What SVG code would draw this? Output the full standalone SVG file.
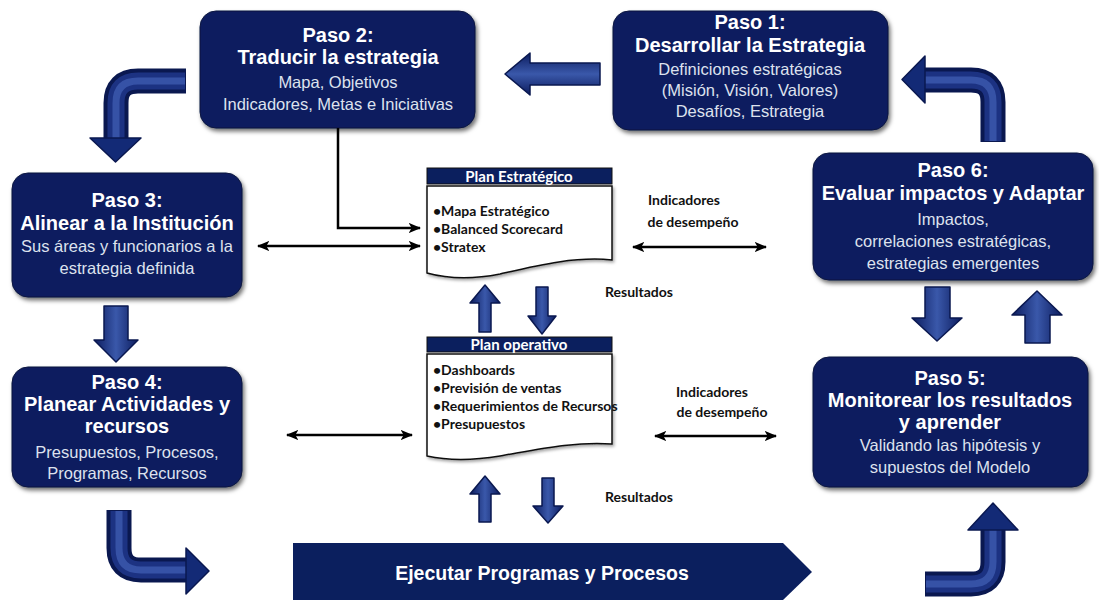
<svg xmlns="http://www.w3.org/2000/svg" width="1099" height="602" viewBox="0 0 1099 602">
  <defs>
    <filter id="shadow" x="-10%" y="-10%" width="125%" height="130%">
      <feDropShadow dx="2" dy="3" stdDeviation="2.2" flood-color="#000" flood-opacity="0.55"/>
    </filter>
    <filter id="soft" x="-10%" y="-10%" width="125%" height="130%">
      <feDropShadow dx="1.5" dy="2" stdDeviation="1.5" flood-color="#000" flood-opacity="0.35"/>
    </filter>
    <marker id="tip" viewBox="0 0 12 10" refX="11" refY="5" markerWidth="5" markerHeight="4.2" markerUnits="strokeWidth" orient="auto-start-reverse">
      <path d="M0,0 L12,5 L0,10 L3,5 Z" fill="#000"/>
    </marker>
    <linearGradient id="gv" x1="0" y1="0" x2="1" y2="0">
      <stop offset="0" stop-color="#0c1c5e"/>
      <stop offset="0.5" stop-color="#3a58aa"/>
      <stop offset="1" stop-color="#0c1c5e"/>
    </linearGradient>
    <linearGradient id="gh" x1="0" y1="0" x2="0" y2="1">
      <stop offset="0" stop-color="#0c1c5e"/>
      <stop offset="0.5" stop-color="#3a58aa"/>
      <stop offset="1" stop-color="#0c1c5e"/>
    </linearGradient>
  </defs>
  <style>
    .box { fill: #0b1f5e; stroke: #08143f; stroke-width: 1; filter: url(#shadow); }
    .ttl { font-family: "Liberation Sans", Arial, sans-serif; font-weight: bold; font-size: 20px; fill: #ffffff; text-anchor: middle; }
    .sub { font-family: "Liberation Sans", Arial, sans-serif; font-size: 16.5px; fill: #dde2ee; text-anchor: middle; }
    .doc { fill: #ffffff; stroke: #111; stroke-width: 1.5; filter: url(#soft); }
    .dochead { fill: #0b1f5e; stroke: #111; stroke-width: 1; }
    .dht { font-family: Lato, "Open Sans", sans-serif; font-weight: bold; font-size: 15px; fill: #fff; text-anchor: middle; }
    .item { font-family: Lato, "Open Sans", sans-serif; font-weight: bold; font-size: 14px; fill: #111; }
    .lbl { font-family: Lato, "Open Sans", sans-serif; font-weight: bold; font-size: 14px; fill: #111; text-anchor: middle; }
    .link { fill: none; stroke: #000; stroke-width: 2.5; }
    .bend-o { fill: none; stroke: #0a1850; stroke-width: 25; }
    .bend-m { fill: none; stroke: #1c3282; stroke-width: 17; }
    .bend-i { fill: none; stroke: #3652a6; stroke-width: 7; }
    .head { fill: #132a76; stroke: #0a1850; stroke-width: 1.5; stroke-linejoin: round; }
    .block { stroke: #0a1850; stroke-width: 1.5; stroke-linejoin: round; }
  </style>

  <!-- step boxes -->
  <g id="paso1">
    <rect class="box" x="613" y="11" width="275" height="119" rx="16"/>
    <text class="ttl" x="750" y="29">Paso 1:</text>
    <text class="ttl" x="750" y="52">Desarrollar la Estrategia</text>
    <text class="sub" x="750" y="75">Definiciones estratégicas</text>
    <text class="sub" x="750" y="96">(Misión, Visión, Valores)</text>
    <text class="sub" x="750" y="117">Desafíos, Estrategia</text>
  </g>
  <g id="paso2">
    <rect class="box" x="200" y="11" width="275" height="117" rx="16"/>
    <text class="ttl" x="338" y="42">Paso 2:</text>
    <text class="ttl" x="338" y="64">Traducir la estrategia</text>
    <text class="sub" x="338" y="88">Mapa, Objetivos</text>
    <text class="sub" x="338" y="110">Indicadores, Metas e Iniciativas</text>
  </g>
  <g id="paso3">
    <rect class="box" x="12" y="173" width="230" height="124" rx="16"/>
    <text class="ttl" x="127" y="207">Paso 3:</text>
    <text class="ttl" x="127" y="230">Alinear a la Institución</text>
    <text class="sub" x="127" y="252">Sus áreas y funcionarios a la</text>
    <text class="sub" x="127" y="274">estrategia definida</text>
  </g>
  <g id="paso4">
    <rect class="box" x="12" y="367" width="230" height="120" rx="16"/>
    <text class="ttl" x="127" y="389">Paso 4:</text>
    <text class="ttl" x="127" y="411">Planear Actividades y</text>
    <text class="ttl" x="127" y="433">recursos</text>
    <text class="sub" x="127" y="458">Presupuestos, Procesos,</text>
    <text class="sub" x="127" y="479">Programas, Recursos</text>
  </g>
  <g id="paso5">
    <rect class="box" x="813" y="357" width="275" height="130" rx="16"/>
    <text class="ttl" x="950" y="385">Paso 5:</text>
    <text class="ttl" x="950" y="407">Monitorear los resultados</text>
    <text class="ttl" x="950" y="429">y aprender</text>
    <text class="sub" x="950" y="451">Validando las hipótesis y</text>
    <text class="sub" x="950" y="473">supuestos del Modelo</text>
  </g>
  <g id="paso6">
    <rect class="box" x="813" y="153" width="280" height="127" rx="16"/>
    <text class="ttl" x="953" y="177">Paso 6:</text>
    <text class="ttl" x="953" y="200">Evaluar impactos y Adaptar</text>
    <text class="sub" x="953" y="225">Impactos,</text>
    <text class="sub" x="953" y="247">correlaciones estratégicas,</text>
    <text class="sub" x="953" y="269">estrategias emergentes</text>
  </g>
  <g id="ejecutar">
    <path d="M293,543 L783,543 L812,572 L783,600 L293,600 Z" fill="#0b1f5e"/>
    <text class="ttl" x="542" y="580" style="font-size:19.5px">Ejecutar Programas y Procesos</text>
  </g>

  <!-- planning documents -->
  <g id="plan-estrategico">
    <path class="doc" d="M427,186 H612 V260 C575,256 535,266 500,274 C470,280 445,278 427,273 Z"/>
    <rect class="dochead" x="427" y="168" width="185" height="16"/>
    <text class="dht" x="519" y="181.5">Plan Estratégico</text>
    <text class="item" x="433" y="216">•Mapa Estratégico</text>
    <text class="item" x="433" y="234">•Balanced Scorecard</text>
    <text class="item" x="433" y="252">•Stratex</text>
  </g>
  <g id="plan-operativo">
    <path class="doc" d="M427,354 H612 V444 C575,441 535,450 500,456 C470,461 445,460 427,456 Z"/>
    <rect class="dochead" x="427" y="337" width="185" height="15"/>
    <text class="dht" x="519" y="350">Plan operativo</text>
    <text class="item" x="433" y="375">•Dashboards</text>
    <text class="item" x="433" y="393">•Previsión de ventas</text>
    <text class="item" x="433" y="411">•Requerimientos de Recursos</text>
    <text class="item" x="433" y="429">•Presupuestos</text>
  </g>

  <!-- labels -->
  <g id="labels">
    <text class="lbl" x="684" y="205">Indicadores</text>
    <text class="lbl" x="693" y="227">de desempeño</text>
    <text class="lbl" x="639" y="297">Resultados</text>
    <text class="lbl" x="712" y="397">Indicadores</text>
    <text class="lbl" x="722" y="417">de desempeño</text>
    <text class="lbl" x="639" y="502">Resultados</text>
  </g>

  <!-- connectors -->
  <g id="connectors">
    <!-- thin links -->
    <path class="link" d="M338,128 V228 H420" marker-end="url(#tip)"/>
    <line class="link" x1="258" y1="246" x2="420" y2="246" marker-start="url(#tip)" marker-end="url(#tip)"/>
    <line class="link" x1="633" y1="247" x2="766" y2="247" marker-start="url(#tip)" marker-end="url(#tip)"/>
    <line class="link" x1="287" y1="435" x2="412" y2="435" marker-start="url(#tip)" marker-end="url(#tip)"/>
    <line class="link" x1="655" y1="436" x2="776" y2="436" marker-start="url(#tip)" marker-end="url(#tip)"/>

    <!-- straight block arrows -->
    <path class="block" fill="url(#gh)" d="M600,63 L530,63 L530,53 L505,74 L530,95 L530,85 L600,85 Z"/>
    <path class="block" fill="url(#gv)" d="M104,306 L128,306 L128,340 L138,340 L116,362 L94,340 L104,340 Z"/>
    <path class="block" fill="url(#gv)" d="M925,287 L950,287 L950,318 L962,318 L937,341 L912,318 L925,318 Z"/>
    <path class="block" fill="url(#gv)" d="M1025,343 L1050,343 L1050,315 L1062,315 L1037,291 L1012,315 L1025,315 Z"/>
    <path class="block" fill="url(#gv)" d="M479,332 L491,332 L491,303 L500,303 L485,285 L470,303 L479,303 Z"/>
    <path class="block" fill="url(#gv)" d="M536,287 L548,287 L548,316 L556,316 L542,334 L528,316 L536,316 Z"/>
    <path class="block" fill="url(#gv)" d="M479,522 L491,522 L491,494 L500,494 L485,476 L470,494 L479,494 Z"/>
    <path class="block" fill="url(#gv)" d="M542,478 L554,478 L554,506 L563,506 L548,523 L533,506 L542,506 Z"/>

    <!-- bent block arrows -->
    <g>
      <path class="bend-o" d="M186,81 H138 Q116,81 116,103 V139"/>
      <path class="bend-m" d="M185,81 H138 Q116,81 116,103 V139"/>
      <path class="bend-i" d="M185,81 H138 Q116,81 116,103 V139"/>
      <path class="head" d="M90,138 L141,138 L115.5,162 Z"/>
    </g>
    <g>
      <path class="bend-o" d="M993,142 V102 Q993,80 971,80 H924"/>
      <path class="bend-m" d="M993,141 V102 Q993,80 971,80 H925"/>
      <path class="bend-i" d="M993,141 V102 Q993,80 971,80 H925"/>
      <path class="head" d="M925,56 L925,103 L902,79.5 Z"/>
    </g>
    <g>
      <path class="bend-o" d="M119,510 V548 Q119,570 141,570 H187"/>
      <path class="bend-m" d="M119,511 V548 Q119,570 141,570 H186"/>
      <path class="bend-i" d="M119,511 V548 Q119,570 141,570 H186"/>
      <path class="head" d="M186,548 L186,594 L209,571 Z"/>
    </g>
    <g>
      <path class="bend-o" d="M925,584 H971 Q993,584 993,562 V529"/>
      <path class="bend-m" d="M926,584 H971 Q993,584 993,562 V530"/>
      <path class="bend-i" d="M926,584 H971 Q993,584 993,562 V530"/>
      <path class="head" d="M968,530 L1018,530 L993,503 Z"/>
    </g>
  </g>
</svg>
